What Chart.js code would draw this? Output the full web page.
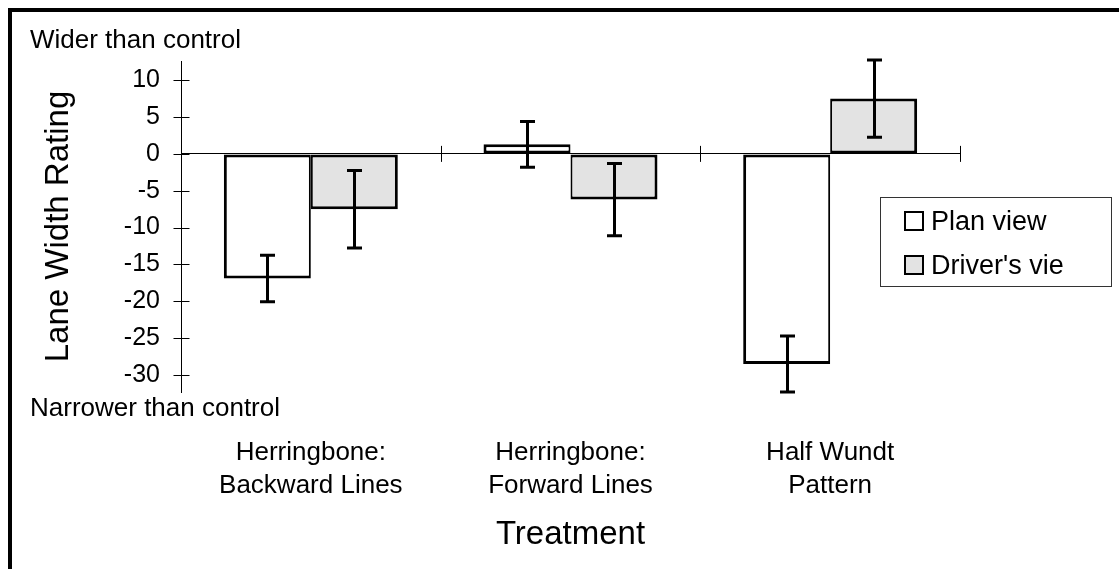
<!DOCTYPE html>
<html>
<head>
<meta charset="utf-8">
<title>Lane Width Rating</title>
<script src="https://cdn.jsdelivr.net/npm/chart.js@4.4.1/dist/chart.umd.min.js"></script>
<style>
  html, body { margin: 0; padding: 0; background: #fff; }
  #wrap { width: 1119px; height: 569px; position: relative; }
</style>
</head>
<body>
<div id="wrap"><canvas id="chart"></canvas></div>
<script>
const categories = [['Herringbone:', 'Backward Lines'], ['Herringbone:', 'Forward Lines'], ['Half Wundt', 'Pattern']];
const seriesNames = ['Plan view', "Driver's vie"];
const planView = [-16.9, 1.3, -28.5];
const planErr = [3.15, 3.1, 3.8];
const driverView = [-7.5, -6.2, 7.5];
const driverErr = [5.25, 4.9, 5.25];
const yTicks = [-30, -25, -20, -15, -10, -5, 0, 5, 10];
const errors = [planErr, driverErr];

const FONT = "'Liberation Sans', Arial, Helvetica, sans-serif";
Chart.defaults.font.family = FONT;
Chart.defaults.color = '#000';

function crisp(v) { return Math.round(v) + 0.5; }

// error bars, crossing tick marks, notes, legend and the frame
const extras = {
    id: 'extras',
    afterDatasetsDraw(chart) {
        const ctx = chart.ctx;
        const y = chart.scales.y;
        ctx.save();
        ctx.strokeStyle = '#000';
        ctx.lineWidth = 3;
        chart.data.datasets.forEach((ds, i) => {
            chart.getDatasetMeta(i).data.forEach((bar, j) => {
                const v = ds.data[j], e = errors[i][j];
                const top = y.getPixelForValue(v + e), bot = y.getPixelForValue(v - e);
                const bx = crisp(bar.x);
                ctx.beginPath();
                ctx.moveTo(bx, top); ctx.lineTo(bx, bot);
                ctx.moveTo(bx - 7.5, top); ctx.lineTo(bx + 7.5, top);
                ctx.moveTo(bx - 7.5, bot); ctx.lineTo(bx + 7.5, bot);
                ctx.stroke();
            });
        });
        ctx.restore();
    },
    afterDraw(chart) {
        const ctx = chart.ctx;
        const x = chart.scales.x, y = chart.scales.y;
        const area = chart.chartArea;
        ctx.save();
        ctx.strokeStyle = '#000';
        ctx.lineWidth = 1;

        // y ticks crossing the axis
        const ax = crisp(area.left);
        ctx.beginPath();
        yTicks.forEach(v => {
            const py = crisp(y.getPixelForValue(v));
            ctx.moveTo(ax - 8, py); ctx.lineTo(ax + 8, py);
        });
        // category boundaries on the zero line
        const zy = y.getPixelForValue(0);
        for (let i = 0; i <= categories.length; i++) {
            const px = crisp(x.getPixelForValue(i - 0.5));
            ctx.moveTo(px, zy - 8); ctx.lineTo(px, zy + 8);
        }
        ctx.stroke();

        // notes above and below the axis
        ctx.fillStyle = '#000';
        ctx.font = '26px ' + FONT;
        ctx.textAlign = 'left';
        ctx.textBaseline = 'alphabetic';
        ctx.fillText('Wider than control', 30, 48);
        ctx.fillText('Narrower than control', 30, 416);

        // legend
        const lx = 880, ly = 197, lw = 231, lh = 89;
        ctx.fillStyle = '#fff';
        ctx.fillRect(lx, ly, lw, lh);
        ctx.strokeStyle = '#333';
        ctx.strokeRect(lx + 0.5, ly + 0.5, lw, lh);
        ctx.font = '27px ' + FONT;
        chart.data.datasets.forEach((ds, i) => {
            const sy = 212 + i * 44;
            ctx.fillStyle = ds.backgroundColor;
            ctx.fillRect(905, sy, 18, 18);
            ctx.strokeStyle = '#000';
            ctx.lineWidth = 2;
            ctx.strokeRect(905, sy, 18, 18);
            ctx.fillStyle = '#000';
            ctx.fillText(ds.label, 931, sy + 18);
        });

        // frame (top and left edges)
        ctx.fillStyle = '#000';
        ctx.fillRect(8, 8, 1111, 4);
        ctx.fillRect(8, 8, 4, 561);
        ctx.restore();
    }
};

new Chart(document.getElementById('chart'), {
    type: 'bar',
    data: {
        labels: categories,
        datasets: [
            {
                label: seriesNames[0],
                data: planView,
                backgroundColor: '#ffffff',
                borderColor: '#000000',
                borderWidth: { top: 3, bottom: 3, left: 3, right: 2 },
                borderSkipped: false
            },
            {
                label: seriesNames[1],
                data: driverView,
                backgroundColor: '#e3e3e3',
                borderColor: '#000000',
                borderWidth: { top: 3, bottom: 3, left: 2, right: 3 },
                borderSkipped: false
            }
        ]
    },
    options: {
        responsive: true,
        maintainAspectRatio: false,
        animation: false,
        layout: { padding: { left: 14, right: 159, top: 61, bottom: 0 } },
        datasets: { bar: { categoryPercentage: 0.67, barPercentage: 1.0 } },
        plugins: { legend: { display: false }, tooltip: { enabled: false } },
        scales: {
            x: {
                grid: { display: false, drawTicks: false },
                border: { display: false },
                ticks: { font: { size: 26, lineHeight: 1.28 }, padding: 44, maxRotation: 0 },
                title: { display: true, text: 'Treatment', font: { size: 33 }, padding: { bottom: 14 } },
                afterFit(scale) { scale.height = 177; }
            },
            y: {
                min: -32.3,
                max: 12.6,
                afterBuildTicks(scale) { scale.ticks = yTicks.map(v => ({ value: v })); },
                grid: {
                    drawTicks: false,
                    color: ctx => (ctx.tick && ctx.tick.value === 0 ? '#000' : 'rgba(0,0,0,0)'),
                    lineWidth: 1
                },
                border: { display: true, color: '#000', width: 1 },
                ticks: { font: { size: 25 }, padding: 21 },
                title: { display: true, text: 'Lane Width Rating', font: { size: 33 }, padding: { top: 25 } },
                afterFit(scale) { scale.width = 167; }
            }
        }
    },
    plugins: [extras]
});
</script>
</body>
</html>
